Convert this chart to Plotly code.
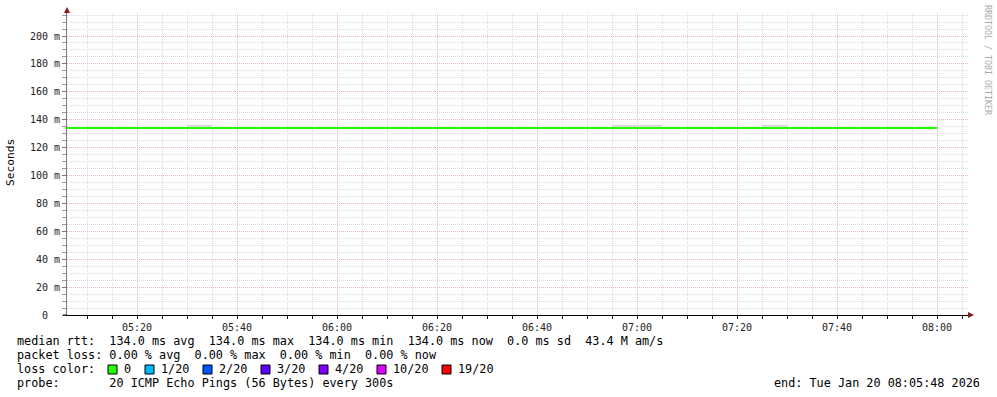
import plotly.graph_objects as go
import pandas as pd

# ---------------- data ----------------
step_times = pd.date_range("2026-01-20 05:05", "2026-01-20 08:00", freq="5min")
median_rtt_s = [0.134, 0.134, 0.134, 0.134, 0.134, 0.134, 0.134, 0.134, 0.134,
                0.134, 0.134, 0.134, 0.134, 0.134, 0.134, 0.134, 0.134, 0.134,
                0.134, 0.134, 0.134, 0.134, 0.134, 0.134, 0.134, 0.134, 0.134,
                0.134, 0.134, 0.134, 0.134, 0.134, 0.134, 0.134, 0.134, 0.134]

smoke_start = ["05:30", "05:40", "06:20", "06:55", "07:00", "07:25", "07:40"]
smoke_low_s = [0.1336, 0.1336, 0.1336, 0.1336, 0.1336, 0.1336, 0.1336]
smoke_high_s = [0.1364, 0.1348, 0.1348, 0.1364, 0.1359, 0.1364, 0.1348]

y_tick_vals = [0, 0.02, 0.04, 0.06, 0.08, 0.10, 0.12, 0.14, 0.16, 0.18, 0.20]
y_tick_text = ["0\u00a0\u00a0", "20 m", "40 m", "60 m", "80 m", "100 m", "120 m",
               "140 m", "160 m", "180 m", "200 m"]

legend_lines = [
    "median rtt:  134.0 ms avg  134.0 ms max  134.0 ms min  134.0 ms now  0.0 ms sd  43.4 M am/s",
    "packet loss: 0.00 % avg  0.00 % max  0.00 % min  0.00 % now",
    "loss color:",
    "probe:       20 ICMP Echo Pings (56 Bytes) every 300s",
]
loss_labels = ["0", "1/20", "2/20", "3/20", "4/20", "10/20", "19/20"]
loss_colors = ["#26ff00", "#00b8ff", "#0059ff", "#5e00ff", "#7e00ff", "#dd00ff", "#ff0000"]
end_text = "end: Tue Jan 20 08:05:48 2026"

# ---------------- layout geometry ----------------
W, H = 997, 397
L, R, T, B = 67, 968, 13, 315
x_start = pd.Timestamp("2026-01-20 05:06:00")
x_end = x_start + pd.Timedelta(minutes=(R - L) / 5.0)


def fx(p):
    return (p - L) / (R - L)


def fy(p):
    return (B - p) / (B - T)


MONO = "DejaVu Sans Mono"
FS = 11.8

fig = go.Figure()

smoke_x = [pd.Timestamp("2026-01-20 " + s) + pd.Timedelta(minutes=2.5) for s in smoke_start]
fig.add_trace(go.Bar(
    x=smoke_x,
    y=[h - l for h, l in zip(smoke_high_s, smoke_low_s)],
    base=smoke_low_s,
    width=300000,
    marker=dict(color="#d8d8d8", line=dict(width=0)),
    hoverinfo="skip",
    showlegend=False,
))

fig.add_trace(go.Scatter(
    x=step_times, y=median_rtt_s,
    mode="lines", line=dict(color="#22ff00", width=2, shape="vh"),
    showlegend=False, hoverinfo="skip",
))

major_grid = "#eeb4b4"
minor_grid = "#dcdcdc"

fig.update_xaxes(
    type="date", range=[x_start, x_end],
    tick0="2026-01-20 05:00", dtick=20 * 60 * 1000, tickformat="%H:%M",
    showgrid=True, gridcolor=major_grid, griddash="1px,1px", gridwidth=1,
    ticks="outside", ticklen=3, tickcolor="#000000",
    showline=True, linecolor="#000000", linewidth=1,
    tickfont=dict(family=MONO, size=10, color="#222222"),
    minor=dict(dtick=5 * 60 * 1000, tick0="2026-01-20 05:00", showgrid=True,
               gridcolor=minor_grid, griddash="1px,1px", ticks="outside",
               ticklen=3, tickcolor="#000000"),
    zeroline=False, fixedrange=True,
)
fig.update_yaxes(
    range=[0, 0.2165],
    tickmode="array", tickvals=y_tick_vals, ticktext=y_tick_text,
    showgrid=True, gridcolor=major_grid, griddash="1px,1px", gridwidth=1,
    ticks="outside", ticklen=4, tickcolor="#777777",
    showline=True, linecolor="#777777", linewidth=1,
    tickfont=dict(family=MONO, size=10, color="#222222"),
    minor=dict(dtick=0.005, tick0=0, showgrid=True, gridcolor=minor_grid,
               griddash="1px,1px", ticks="outside", ticklen=4, tickcolor="#999999"),
    zeroline=False, fixedrange=True,
)

shapes = []
# arrows
arrow_col = "#8b1a1a"
shapes.append(dict(type="path", xref="paper", yref="paper",
                   path=f"M {fx(64)} {fy(13)} L {fx(70)} {fy(13)} L {fx(67)} {fy(7)} Z",
                   fillcolor=arrow_col, line=dict(width=0)))
shapes.append(dict(type="path", xref="paper", yref="paper",
                   path=f"M {fx(968)} {fy(312)} L {fx(968)} {fy(318)} L {fx(974)} {fy(315)} Z",
                   fillcolor=arrow_col, line=dict(width=0)))
# extend bottom axis slightly left
shapes.append(dict(type="line", xref="paper", yref="paper",
                   x0=fx(63), x1=fx(67), y0=fy(315), y1=fy(315),
                   line=dict(color="#000000", width=1)))

annotations = []
line_y = [341, 355, 369, 383]
for txt, yy in zip(legend_lines, line_y):
    annotations.append(dict(text=txt.replace(" ", "&nbsp;"), x=fx(15), y=fy(yy), xref="paper", yref="paper",
                            xanchor="left", yanchor="middle", showarrow=False,
                            font=dict(family=MONO, size=FS, color="#000000")))

box_x = [108, 145, 203, 261, 319, 377, 442]
text_x = [122, 159, 217, 275, 333, 391, 456]
for bx, tx, lab, col in zip(box_x, text_x, loss_labels, loss_colors):
    shapes.append(dict(type="rect", xref="paper", yref="paper",
                       x0=fx(bx), x1=fx(bx + 9), y0=fy(374), y1=fy(365),
                       fillcolor=col, line=dict(color="#000000", width=1)))
    annotations.append(dict(text=lab, x=fx(tx), y=fy(369), xref="paper", yref="paper",
                            xanchor="left", yanchor="middle", showarrow=False,
                            font=dict(family=MONO, size=FS, color="#000000")))

annotations.append(dict(text=end_text, x=fx(982), y=fy(383), xref="paper", yref="paper",
                        xanchor="right", yanchor="middle", showarrow=False,
                        font=dict(family=MONO, size=FS, color="#000000")))
annotations.append(dict(text="Seconds", x=fx(10), y=fy(163), xref="paper", yref="paper",
                        xanchor="center", yanchor="middle", textangle=-90, showarrow=False,
                        font=dict(family=MONO, size=11.2, color="#000000")))
annotations.append(dict(text="RRDTOOL / TOBI OETIKER", x=fx(988), y=fy(60), xref="paper", yref="paper",
                        xanchor="center", yanchor="middle", textangle=90, showarrow=False,
                        font=dict(family=MONO, size=8.3, color="#aaaaaa")))

fig.update_layout(
    width=W, height=H,
    margin=dict(l=L, r=W - R, t=T, b=H - B, pad=0),
    paper_bgcolor="#ffffff", plot_bgcolor="#ffffff",
    shapes=shapes, annotations=annotations,
    bargap=0, showlegend=False,
)

fig.write_html("out.html", config={"displayModeBar": False})
